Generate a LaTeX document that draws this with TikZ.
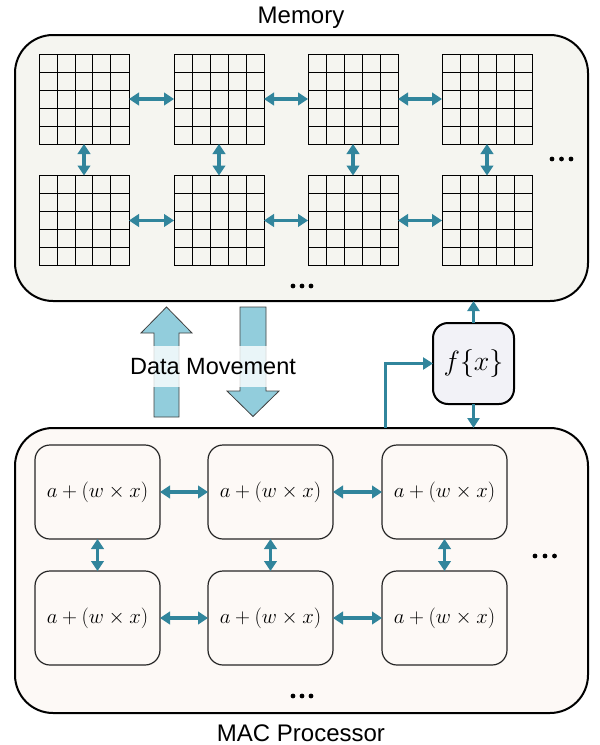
\documentclass[tikz,border=0pt]{standalone}
\usepackage{fontspec}
\setmainfont{Liberation Sans}
\usetikzlibrary{arrows.meta,calc}

\definecolor{linkteal}{HTML}{31859C}
\definecolor{flowblue}{HTML}{92CDDC}
\definecolor{memfill}{HTML}{F5F5F0}
\definecolor{macfill}{HTML}{FDF9F6}
\definecolor{funcfill}{HTML}{F2F2F7}

\begin{document}
\begin{tikzpicture}[x=1pt,y=-1pt,
  every node/.style={inner sep=0pt, outer sep=0pt},
  outerbox/.style={draw=black, line width=2pt, rounded corners=38pt},
  cellgrid/.style={draw=black, line width=1pt, fill=memfill,
    minimum width=90pt, minimum height=90pt},
  gridline/.style={draw=black, line width=1pt},
  macbox/.style={draw=black!85, line width=1.2pt, fill=macfill,
    rounded corners=15pt, minimum width=125pt, minimum height=94pt,
    font=\fontsize{20.74}{24}\selectfont},
  funcbox/.style={draw=black, line width=2pt, fill=funcfill,
    rounded corners=15pt, minimum width=81pt, minimum height=81pt,
    font=\fontsize{24.88}{30}\selectfont},
  link/.style={draw=linkteal, line width=3.2pt,
    {Triangle[length=10pt,width=12.5pt]}-{Triangle[length=10pt,width=12.5pt]}},
  onelink/.style={draw=linkteal, line width=3pt,
    -{Triangle[length=10pt,width=12pt]}},
  bigarrow/.style={fill=flowblue, draw=black!75, line width=0.8pt},
  label/.style={font=\fontsize{24}{28}\selectfont},
  dotmark/.style={fill=black}
]
\useasboundingbox (0,0) rectangle (600,745);

% outer containers
\node[outerbox, fill=memfill, minimum width=573pt, minimum height=266pt] (mem) at (301.5,168) {};
\node[outerbox, fill=macfill, minimum width=573pt, minimum height=285pt] (mac) at (301.5,570.5) {};

\node[label] (memlabel) at (301,18) {Memory};
\node[label] (maclabel) at (301,733) {MAC Processor};

% memory tiles: 5x5 cell grids
\foreach \c/\x in {1/84,2/219,3/353,4/487} {
  \foreach \r/\y in {1/99,2/220.5} {
    \node[cellgrid] (g\r\c) at (\x,\y) {};
    \foreach \k in {1,...,4} {
      \draw[gridline] ($(g\r\c.north west)!\k/5!(g\r\c.north east)$) -- ($(g\r\c.south west)!\k/5!(g\r\c.south east)$);
      \draw[gridline] ($(g\r\c.north west)!\k/5!(g\r\c.south west)$) -- ($(g\r\c.north east)!\k/5!(g\r\c.south east)$);
    }
  }
}
\foreach \r in {1,2} {
  \foreach \a/\b in {1/2,2/3,3/4} {
    \draw[link] (g\r\a.east) -- (g\r\b.west);
  }
}
\foreach \c in {1,...,4} {
  \draw[link] (g1\c.south) -- (g2\c.north);
}

% continuation marks
\foreach \x in {552,561.5,571} { \fill[dotmark] (\x,159) circle (2.4pt); }
\foreach \x in {293,302,311} { \fill[dotmark] (\x,286) circle (2.4pt); }
\foreach \x in {535,545,554.5} { \fill[dotmark] (\x,556) circle (2.4pt); }
\foreach \x in {293,302,311} { \fill[dotmark] (\x,696) circle (2.4pt); }

% MAC units
\foreach \c/\x in {1/97.5,2/270.5,3/444.5} {
  \foreach \r/\y in {1/492,2/618} {
    \node[macbox] (m\r\c) at (\x,\y) {$a+(w\times x)$};
  }
}
\foreach \r in {1,2} {
  \foreach \a/\b in {1/2,2/3} {
    \draw[link] (m\r\a.east) -- (m\r\b.west);
  }
}
\foreach \c in {1,2,3} {
  \draw[link] (m1\c.south) -- (m2\c.north);
}

% activation function
\node[funcbox] (f) at (473.5,363.5) {\scalebox{1.12}{$f\{x\}$}};
\draw[onelink] (f.north) -- (f.north |- mem.south);
\draw[onelink] (f.south) -- (f.south |- mac.north);
\coordinate (tap) at (385,428);
\draw[onelink] (tap) |- (f.west);

% data movement arrows
\draw[bigarrow] (154,417) -- (154,333) -- (141,333) -- (166.5,307) -- (192,333) -- (179,333) -- (179,417) -- cycle;
\draw[bigarrow] (240,307) -- (266,307) -- (266,391) -- (279,391) -- (253,416.5) -- (227,391) -- (240,391) -- cycle;
\node[fill=white, fill opacity=0.8, text opacity=1, minimum height=41pt,
  inner xsep=2pt, font=\fontsize{23.5}{28}\selectfont] (dm) at (213,366.5) {Data Movement};
\end{tikzpicture}
\end{document}
